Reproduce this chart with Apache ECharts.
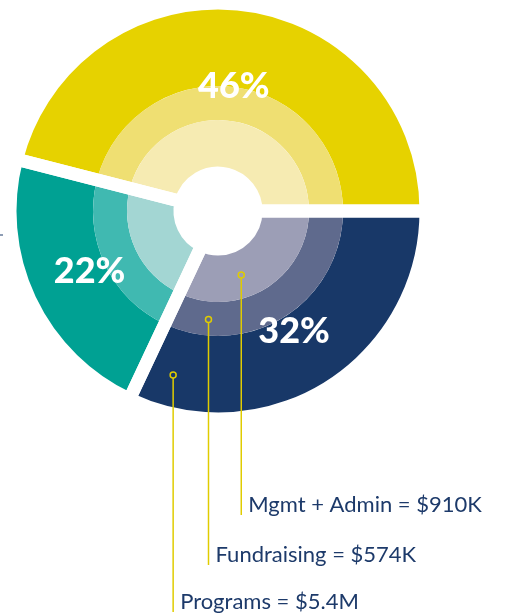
<!DOCTYPE html>
<html>
<head>
<meta charset="utf-8">
<script src="https://cdn.jsdelivr.net/npm/echarts@6/dist/echarts.min.js"></script>
<style>
  html, body { margin: 0; padding: 0; background: #fff; }
  #chart { width: 505px; height: 615px; }
</style>
</head>
<body>
<div id="chart"></div>
<script>
// segment shares (%), counter-clockwise from 3 o'clock
const shares = [46, 22, 32];
// ring colours per segment: outer, middle, inner
const outerColors = ['#e6d200', '#00a193', '#183868'];
const middleColors = ['#efdf72', '#40b9b1', '#5f6a8d'];
const innerColors = ['#f6ebb2', '#a3d6d3', '#9c9eb6'];
// ring legend (inner -> outer)
const ringNames = ['Mgmt + Admin', 'Fundraising', 'Programs'];
const ringAmounts = ['$910K', '$574K', '$5.4M'];

const cx = 218, cy = 211;
const hole = 38, r1 = 91, r2 = 125, rOuter = 208;
const labelBase = 131;             // (40 + 222) / 2
const labelRadius = [123, 139, 139]; // where each % label sits

function ring(radius, colors) {
    return {
        type: 'pie',
        center: [cx, cy],
        radius: radius,
        startAngle: 0,
        clockwise: false,
        silent: true,
        label: { show: false },
        labelLine: { show: false },
        data: shares.map((v, i) => ({ value: v, itemStyle: { color: colors[i] } }))
    };
}

// shift each label outward/inward along its mid angle
const total = shares.reduce((a, b) => a + b, 0);
let acc = 0;
const labelData = shares.map((v, i) => {
    const mid = (acc + v / 2) / total * 2 * Math.PI;
    acc += v;
    const d = labelRadius[i] - labelBase;
    return { value: v, label: { offset: [d * Math.cos(mid), -d * Math.sin(mid)] } };
});

// leader lines: dot inside each ring of the navy segment, going down to its label
const ringMid = [68, 109, 170];
const dotAngles = [290, 265, 254.7];
const lineEnds = [515, 565, 612];
const yellow = '#e0cc00';
const graphics = [];
ringNames.forEach((name, i) => {
    const a = dotAngles[i] * Math.PI / 180;
    const x = cx + ringMid[i] * Math.cos(a);
    const y = cy - ringMid[i] * Math.sin(a);
    graphics.push({
        type: 'line',
        z: 100,
        shape: { x1: x, y1: y + 3, x2: x, y2: lineEnds[i] },
        style: { stroke: yellow, lineWidth: 1.5 }
    });
    graphics.push({
        type: 'circle',
        z: 100,
        shape: { cx: x, cy: y, r: 3 },
        style: { fill: 'none', stroke: yellow, lineWidth: 1.5 }
    });
    graphics.push({
        type: 'text',
        z: 100,
        x: x + 7,
        y: lineEnds[i] - 10,
        style: {
            text: name + ' = ' + ringAmounts[i],
            font: '22px Lato',
            fill: '#1d3a6a',
            verticalAlign: 'middle'
        }
    });
});
// small stray tick on the left edge
graphics.push({
    type: 'line',
    shape: { x1: 0, y1: 235, x2: 3, y2: 235 },
    style: { stroke: '#1d3a6a', lineWidth: 1 }
});

const chart = echarts.init(document.getElementById('chart'));
chart.setOption({
    animation: false,
    series: [
        ring([r2, rOuter], outerColors),
        ring([r1, r2], middleColors),
        ring([hole, r1], innerColors),
        // white gaps between segments
        {
            type: 'pie',
            center: [cx, cy],
            radius: [hole, rOuter],
            startAngle: 0,
            clockwise: false,
            silent: true,
            label: { show: false },
            labelLine: { show: false },
            itemStyle: { color: 'transparent', borderColor: '#fff', borderWidth: 13 },
            data: shares.map(v => ({ value: v }))
        },
        // percentage labels
        {
            type: 'pie',
            center: [cx, cy],
            radius: [40, 222],
            startAngle: 0,
            clockwise: false,
            silent: true,
            itemStyle: { color: 'transparent' },
            label: {
                show: true,
                position: 'inside',
                formatter: '{c}%',
                color: '#fff',
                fontFamily: 'Lato',
                fontWeight: 900,
                fontSize: 36
            },
            labelLine: { show: false },
            data: labelData
        }
    ],
    graphic: graphics
});
</script>
</body>
</html>
